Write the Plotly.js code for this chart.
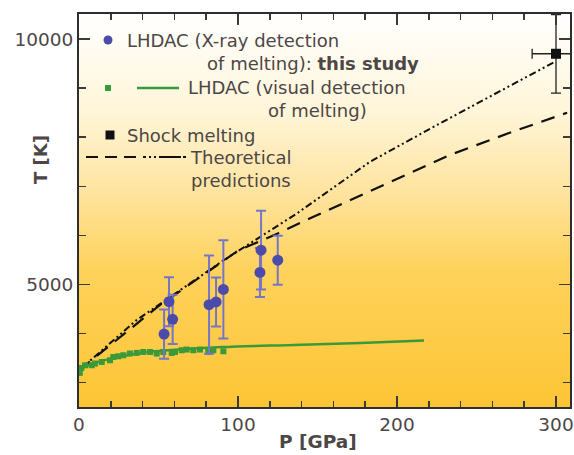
<!DOCTYPE html>
<html>
<head>
<meta charset="utf-8">
<script src="https://cdn.plot.ly/plotly-3.0.1.min.js"></script>
<style>
  html, body { margin: 0; padding: 0; background: #ffffff; }
  #chart { width: 574px; height: 455px; }
</style>
</head>
<body>
<div id="chart"></div>
<script>
// Melting curve: laser-heated DAC (X-ray), LHDAC (visual), shock and theory

// LHDAC, X-ray detection of melting
const xrayP = [53.5, 56.6, 58.9, 81.8, 86.2, 90.8, 113.8, 114.5, 125.0];
const xrayT = [3990, 4650, 4290, 4590, 4645, 4900, 5245, 5700, 5495];
const xrayErr = [500, 500, 500, 1000, 500, 1000, 500, 800, 500];

// LHDAC, visual detection of melting (points)
const visP = [0.5, 1.5, 3.8, 8.0, 10.0, 14.3, 19.5, 21.6, 24.7, 27.9, 32.0, 36.3, 40.4,
              44.7, 48.9, 53.0, 58.3, 60.4, 64.6, 67.7, 71.9, 76.1, 81.3, 84.5, 90.8];
const visT = [3200, 3300, 3355, 3355, 3390, 3422, 3457, 3524, 3538, 3559, 3594, 3606, 3626,
              3626, 3594, 3626, 3606, 3626, 3661, 3675, 3661, 3675, 3626, 3661, 3640];

// LHDAC, visual detection of melting (fitted curve)
const visFitP = [0, 10, 20, 30, 45, 60, 90, 135, 177, 217];
const visFitT = [3280, 3400, 3490, 3560, 3630, 3670, 3725, 3770, 3810, 3858];

// Shock melting
const shockP = [300];
const shockT = [9700];
const shockErrT = [800];
const shockErrP = [15];

// Theoretical predictions
const theoryAP = [0, 36, 91, 137, 183, 227, 300];
const theoryAT = [3250, 4270, 5495, 6447, 7500, 8282, 9550];
const theoryBP = [0, 50, 100, 125, 145, 190, 233, 270, 307];
const theoryBT = [3250, 4560, 5690, 6040, 6345, 7000, 7636, 8080, 8500];

// Axis ticks
const xTickVals = [0, 100, 200, 300];
const yTickVals = [5000, 10000];

const W = 574, H = 455;
const M = { l: 79, r: 4, t: 14, b: 48 };
const plotW = W - M.l - M.r, plotH = H - M.t - M.b;
const fx = px => (px - M.l) / plotW;
const fy = py => (H - M.b - py) / plotH;
const indent = n => '\u00A0'.repeat(n);

const blue = '#4b4bab';
const blueErr = '#7676c6';
const green = '#3a9a3a';
const textCol = '#4d4646';
const frameCol = '#2e2e2e';
const FONT = '"DejaVu Sans", "Open Sans", sans-serif';

const bgSvg = "<svg xmlns='http://www.w3.org/2000/svg' width='10' height='100' preserveAspectRatio='none'>" +
  "<defs><linearGradient id='g' x1='0' y1='0' x2='0' y2='1'>" +
  "<stop offset='0' stop-color='#ffffff'/>" +
  "<stop offset='0.25' stop-color='#fff5d8'/>" +
  "<stop offset='0.45' stop-color='#ffe4a0'/>" +
  "<stop offset='0.65' stop-color='#fed25c'/>" +
  "<stop offset='1' stop-color='#fdc535'/>" +
  "</linearGradient></defs><rect width='10' height='100' fill='url(#g)'/></svg>";

const dashDot = '7px,3px,2px,3px,2px,3px';

const traces = [
  {
    x: theoryBP, y: theoryBT, mode: 'lines', type: 'scatter',
    line: { color: '#111111', width: 2.2, dash: '14px,9px' }, hoverinfo: 'skip'
  },
  {
    x: theoryAP, y: theoryAT, mode: 'lines', type: 'scatter',
    line: { color: '#111111', width: 2, dash: dashDot }, hoverinfo: 'skip'
  },
  {
    x: visFitP, y: visFitT, mode: 'lines', type: 'scatter',
    line: { color: green, width: 2.5, shape: 'spline' }, hoverinfo: 'skip'
  },
  {
    x: visP, y: visT, mode: 'markers', type: 'scatter',
    marker: { symbol: 'square', size: 6, color: green }, hoverinfo: 'skip'
  },
  {
    x: xrayP, y: xrayT, mode: 'markers', type: 'scatter',
    marker: { symbol: 'circle', size: 11, color: blue },
    error_y: { type: 'data', array: xrayErr, visible: true, color: blueErr, thickness: 2, width: 5 },
    hoverinfo: 'skip'
  },
  {
    x: shockP, y: shockT, mode: 'markers', type: 'scatter',
    marker: { symbol: 'square', size: 10, color: '#111111' },
    error_y: { type: 'data', array: shockErrT, visible: true, color: '#222222', thickness: 1.3, width: 5 },
    error_x: { type: 'data', array: shockErrP, visible: true, color: '#222222', thickness: 1.3, width: 5 },
    cliponaxis: false, hoverinfo: 'skip'
  }
];

const axisCommon = {
  showgrid: false, zeroline: false,
  showline: true, linecolor: frameCol, linewidth: 2, mirror: 'allticks',
  ticks: 'inside', ticklen: 11, tickwidth: 1.5, tickcolor: '#3a3a3a',
  ticklabeloverflow: 'allow',
  tickfont: { family: FONT, size: 18.5, color: textCol }
};

// legend blocks: text, left edge (px), vertical centre (px)
const legendBlocks = [
  { t: 'LHDAC (X-ray detection<br>' + indent(14) + 'of melting): <b>this study</b>', x: 125, y: 51.5 },
  { t: 'LHDAC (visual detection<br>' + indent(14) + 'of melting)', x: 186, y: 99 },
  { t: 'Shock melting', x: 125, y: 135 },
  { t: 'Theoretical<br>predictions', x: 188, y: 168.5 }
];

const annotations = legendBlocks.map(r => ({
  xref: 'paper', yref: 'paper', x: fx(r.x), y: fy(r.y),
  xanchor: 'left', yanchor: 'middle', align: 'left', showarrow: false, text: r.t,
  font: { family: FONT, size: 18, color: textCol }
}));

annotations.push({
  xref: 'paper', yref: 'paper', x: fx(40), y: fy(160), textangle: -90,
  xanchor: 'center', yanchor: 'middle', showarrow: false, text: '<b>T [K]</b>',
  font: { family: FONT, size: 18, color: textCol }
});
annotations.push({
  xref: 'paper', yref: 'paper', x: fx(318), y: fy(441),
  xanchor: 'center', yanchor: 'middle', showarrow: false, text: '<b>P [GPa]</b>',
  font: { family: FONT, size: 18.5, color: textCol }
});

// legend keys
const shapes = [
  { type: 'circle', xref: 'paper', yref: 'paper', x0: fx(103.5), x1: fx(112.5), y0: fy(44.5), y1: fy(35.5),
    fillcolor: blue, line: { width: 0 } },
  { type: 'rect', xref: 'paper', yref: 'paper', x0: fx(105), x1: fx(111), y0: fy(91), y1: fy(85),
    fillcolor: green, line: { width: 0 } },
  { type: 'line', xref: 'paper', yref: 'paper', x0: fx(137), x1: fx(179), y0: fy(88), y1: fy(88),
    line: { color: green, width: 2.5 } },
  { type: 'rect', xref: 'paper', yref: 'paper', x0: fx(105.5), x1: fx(114.5), y0: fy(139.5), y1: fy(130.5),
    fillcolor: '#111111', line: { width: 0 } },
  { type: 'line', xref: 'paper', yref: 'paper', x0: fx(86), x1: fx(146), y0: fy(157), y1: fy(157),
    line: { color: '#111111', width: 2, dash: '12px,7px' } },
  { type: 'line', xref: 'paper', yref: 'paper', x0: fx(149), x1: fx(187), y0: fy(157), y1: fy(157),
    line: { color: '#111111', width: 2, dash: '2px,3px,2px,3px,22px' } }
];

const layout = {
  width: W, height: H,
  margin: M,
  paper_bgcolor: '#ffffff',
  plot_bgcolor: 'rgba(0,0,0,0)',
  showlegend: false,
  font: { family: FONT, color: textCol },
  xaxis: Object.assign({}, axisCommon, {
    range: [0, 308.8], tickvals: xTickVals, ticktext: xTickVals.map(String),
    minor: { dtick: 20, tick0: 0, ticks: 'inside', ticklen: 6, tickwidth: 1.5, tickcolor: '#3a3a3a' }
  }),
  yaxis: Object.assign({}, axisCommon, {
    range: [2505, 10510], tickvals: yTickVals, ticktext: yTickVals.map(String),
    minor: { dtick: 1000, tick0: 0, ticks: 'inside', ticklen: 7, tickwidth: 1.5, tickcolor: '#3a3a3a' }
  }),
  images: [{
    source: 'data:image/svg+xml;charset=utf-8,' + encodeURIComponent(bgSvg),
    xref: 'paper', yref: 'paper', x: 0, y: 1, sizex: 1, sizey: 1,
    sizing: 'stretch', xanchor: 'left', yanchor: 'top', layer: 'below'
  }],
  annotations: annotations,
  shapes: shapes
};

Plotly.newPlot('chart', traces, layout, { staticPlot: true, displayModeBar: false });
</script>
</body>
</html>
